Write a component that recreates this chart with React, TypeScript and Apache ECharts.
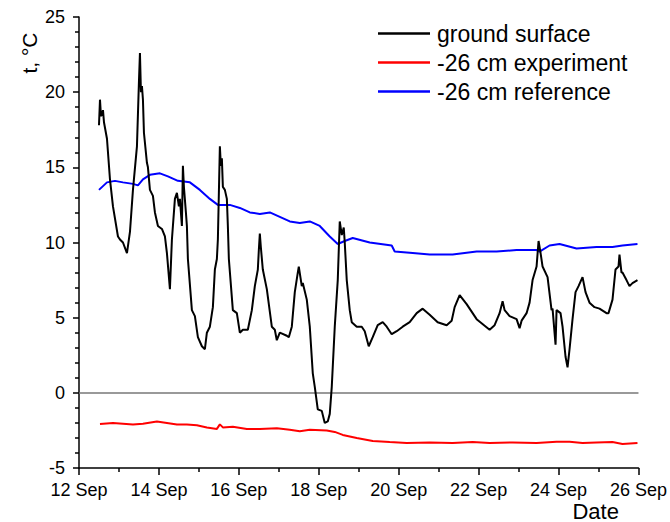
import React, { useEffect, useRef } from "react";
import * as echarts from "echarts";

// Day of September (fractional) and temperature, °C
const groundDays = [12.5, 12.525, 12.55, 12.6, 12.625, 12.7, 12.775, 12.85, 12.975, 13.025, 13.1, 13.2, 13.275, 13.35, 13.45, 13.5, 13.525, 13.55, 13.575, 13.6, 13.625, 13.7, 13.725, 13.775, 13.85, 13.9, 13.975, 14.075, 14.15, 14.2, 14.275, 14.325, 14.4, 14.45, 14.5, 14.525, 14.575, 14.6, 14.625, 14.675, 14.7, 14.725, 14.825, 14.9, 14.975, 15.075, 15.15, 15.2, 15.275, 15.35, 15.4, 15.45, 15.475, 15.525, 15.55, 15.575, 15.6, 15.65, 15.7, 15.725, 15.75, 15.85, 15.95, 16.025, 16.1, 16.225, 16.325, 16.4, 16.475, 16.5, 16.525, 16.55, 16.6, 16.7, 16.825, 16.9, 16.95, 17.025, 17.2, 17.25, 17.325, 17.4, 17.475, 17.5, 17.575, 17.6, 17.7, 17.775, 17.85, 17.9, 17.975, 18.075, 18.15, 18.225, 18.275, 18.325, 18.4, 18.475, 18.525, 18.575, 18.625, 18.65, 18.7, 18.775, 18.825, 18.95, 19.075, 19.15, 19.25, 19.35, 19.475, 19.6, 19.7, 19.825, 19.95, 20.1, 20.275, 20.45, 20.6, 20.775, 20.975, 21.2, 21.325, 21.4, 21.525, 21.7, 21.95, 22.275, 22.4, 22.525, 22.6, 22.65, 22.775, 22.95, 23.025, 23.075, 23.2, 23.275, 23.35, 23.45, 23.5, 23.55, 23.6, 23.725, 23.825, 23.85, 23.925, 23.95, 24.05, 24.1, 24.175, 24.225, 24.275, 24.35, 24.425, 24.5, 24.6, 24.675, 24.775, 24.9, 25.025, 25.2, 25.25, 25.35, 25.425, 25.5, 25.525, 25.575, 25.6, 25.7, 25.775, 25.85, 25.975];
const groundTemps = [17.8, 19.5, 18.4, 18.8, 18.0, 16.9, 14.2, 12.4, 10.4, 10.2, 10.0, 9.3, 10.7, 13.5, 16.4, 20.7, 22.6, 20.0, 20.4, 19.5, 17.3, 15.3, 15.0, 13.5, 13.1, 12.0, 11.1, 10.9, 10.4, 9.3, 6.9, 10.2, 12.9, 13.3, 12.4, 12.9, 11.1, 15.1, 13.7, 12.0, 11.1, 8.9, 5.5, 5.1, 3.7, 3.1, 2.9, 4.0, 4.4, 5.7, 8.2, 8.9, 10.2, 16.4, 15.1, 15.6, 13.7, 13.5, 12.9, 11.1, 8.9, 5.5, 5.3, 4.0, 4.2, 4.2, 5.5, 7.1, 8.2, 9.5, 10.6, 9.7, 8.2, 6.9, 4.4, 4.2, 3.5, 4.0, 3.8, 3.7, 4.4, 6.7, 8.0, 8.4, 7.1, 7.3, 6.2, 4.4, 1.3, 0.4, -1.1, -1.2, -2.0, -1.9, -1.4, 0.4, 4.4, 7.5, 11.4, 10.5, 11.0, 10.0, 7.5, 5.5, 4.7, 4.4, 4.4, 4.1, 3.1, 3.7, 4.5, 4.7, 4.4, 3.9, 4.1, 4.4, 4.7, 5.3, 5.6, 5.2, 4.7, 4.5, 4.8, 5.7, 6.5, 5.9, 4.9, 4.2, 4.5, 5.3, 6.1, 5.5, 5.1, 4.9, 4.3, 4.8, 5.3, 6.0, 7.5, 8.4, 10.1, 9.3, 8.4, 7.7, 5.5, 5.6, 3.2, 5.5, 5.3, 4.4, 2.4, 1.7, 2.9, 4.9, 6.7, 7.1, 7.7, 6.7, 6.0, 5.7, 5.6, 5.3, 5.3, 6.2, 8.2, 8.4, 9.2, 8.0, 8.0, 7.5, 7.1, 7.3, 7.5];

const experimentDays = [12.525, 12.85, 13.1, 13.35, 13.6, 13.95, 14.2, 14.45, 14.7, 14.95, 15.2, 15.45, 15.525, 15.6, 15.85, 16.2, 16.525, 16.95, 17.275, 17.525, 17.775, 18.2, 18.4, 18.6, 18.95, 19.35, 19.775, 20.2, 20.775, 21.35, 21.85, 22.275, 22.85, 23.45, 23.95, 24.275, 24.6, 24.95, 25.35, 25.6, 25.975];
const experimentTemps = [-2.07, -2.0, -2.05, -2.1, -2.05, -1.9, -2.0, -2.1, -2.1, -2.15, -2.3, -2.4, -2.1, -2.3, -2.25, -2.4, -2.4, -2.35, -2.45, -2.55, -2.45, -2.5, -2.6, -2.8, -3.0, -3.2, -3.27, -3.33, -3.3, -3.33, -3.27, -3.33, -3.3, -3.33, -3.25, -3.25, -3.33, -3.3, -3.27, -3.4, -3.33];

const referenceDays = [12.5, 12.7, 12.9, 13.1, 13.35, 13.475, 13.6, 13.775, 14.025, 14.225, 14.475, 14.775, 15.025, 15.275, 15.475, 15.775, 16.025, 16.275, 16.525, 16.775, 17.025, 17.275, 17.525, 17.775, 18.025, 18.275, 18.475, 18.65, 18.85, 19.275, 19.825, 19.9, 20.35, 20.775, 21.35, 21.95, 22.45, 22.95, 23.45, 23.525, 23.775, 24.025, 24.45, 24.95, 25.35, 25.6, 25.975];
const referenceTemps = [13.5, 14.0, 14.1, 14.0, 13.9, 13.8, 14.2, 14.5, 14.6, 14.4, 14.1, 14.0, 13.5, 12.9, 12.5, 12.5, 12.3, 12.0, 11.9, 12.0, 11.7, 11.4, 11.3, 11.4, 11.1, 10.4, 9.9, 10.1, 10.3, 10.0, 9.8, 9.4, 9.3, 9.2, 9.2, 9.4, 9.4, 9.5, 9.5, 9.4, 9.8, 9.9, 9.6, 9.7, 9.7, 9.8, 9.9];

const seriesNames = ["ground surface", "-26 cm experiment", "-26 cm reference"];
const xTicks = [12, 14, 16, 18, 20, 22, 24, 26];

const zip = (xs: number[], ys: number[]) => xs.map((x, i) => [x, ys[i]]);

const FONT = "'Liberation Sans', Arial, sans-serif";

export default function App() {
  const ref = useRef<HTMLDivElement>(null);
  useEffect(() => {
    if (!ref.current) return;
    const chart = echarts.init(ref.current, undefined, { renderer: "svg" });
    const lineSeries = (name: string, data: number[][], color: string, extra: any = {}) => ({
      name,
      type: "line",
      data,
      symbol: "none",
      showSymbol: false,
      lineStyle: { color, width: 2 },
      itemStyle: { color },
      z: 3,
      ...extra,
    });
    chart.setOption({
      animation: false,
      backgroundColor: "#ffffff",
      textStyle: { fontFamily: FONT },
      grid: { left: 79, right: 31, top: 17, bottom: 54, containLabel: false },
      legend: {
        orient: "vertical",
        left: 378,
        top: 22,
        padding: 0,
        itemWidth: 52,
        itemHeight: 2.5,
        itemGap: 6,
        icon: "rect",
        data: seriesNames.map((n, i) => ({
          name: n,
          itemStyle: { color: ["#000000", "#ff0000", "#0000ff"][i] },
        })),
        textStyle: { fontFamily: FONT, fontSize: 23, color: "#000", lineHeight: 23, padding: [0, 0, 0, 2] },
        selectedMode: false,
      },
      xAxis: {
        type: "value",
        min: 12,
        max: 26,
        interval: 2,
        name: "Date",
        nameLocation: "end",
        nameGap: -66,
        nameTextStyle: {
          fontFamily: FONT,
          fontSize: 22,
          color: "#000",
          align: "left",
          verticalAlign: "top",
          padding: [32, 0, 0, 0],
        },
        axisLine: { onZero: false, lineStyle: { color: "#000", width: 1.5 } },
        axisTick: { inside: false, length: 7, lineStyle: { color: "#000", width: 1.5 } },
        minorTick: { show: true, splitNumber: 2, length: 4, lineStyle: { color: "#000", width: 1.5 } },
        axisLabel: {
          fontFamily: FONT,
          fontSize: 18,
          color: "#000",
          margin: 13,
          formatter: (v: number) => (xTicks.includes(v) ? `${v} Sep` : ""),
        },
        splitLine: { show: false },
      },
      yAxis: {
        type: "value",
        min: -5,
        max: 25,
        interval: 5,
        axisLine: { show: true, onZero: false, lineStyle: { color: "#000", width: 1.5 } },
        axisTick: { show: true, inside: false, length: 6, lineStyle: { color: "#000", width: 1.5 } },
        minorTick: { show: true, splitNumber: 5, length: 4, lineStyle: { color: "#000", width: 1.5 } },
        axisLabel: { fontFamily: FONT, fontSize: 18, color: "#000", margin: 14 },
        splitLine: { show: false },
      },
      graphic: [
        {
          type: "text",
          x: 29,
          y: 53,
          rotation: Math.PI / 2,
          style: {
            text: "t, °C",
            font: `21px ${FONT}`,
            fill: "#000",
            align: "center",
            verticalAlign: "middle",
          },
        },
      ],
      series: [
        lineSeries(seriesNames[0], zip(groundDays, groundTemps), "#000000", {
          z: 4,
          markLine: {
            silent: true,
            symbol: "none",
            label: { show: false },
            lineStyle: { color: "#777777", width: 1.5, type: "solid" },
            data: [{ yAxis: 0 }],
            z: 1,
          },
        }),
        lineSeries(seriesNames[1], zip(experimentDays, experimentTemps), "#ff0000"),
        lineSeries(seriesNames[2], zip(referenceDays, referenceTemps), "#0000ff"),
      ],
    });
    return () => chart.dispose();
  }, []);
  return <div ref={ref} style={{ width: 670, height: 522, position: "absolute", left: 0, top: 0 }} />;
}
